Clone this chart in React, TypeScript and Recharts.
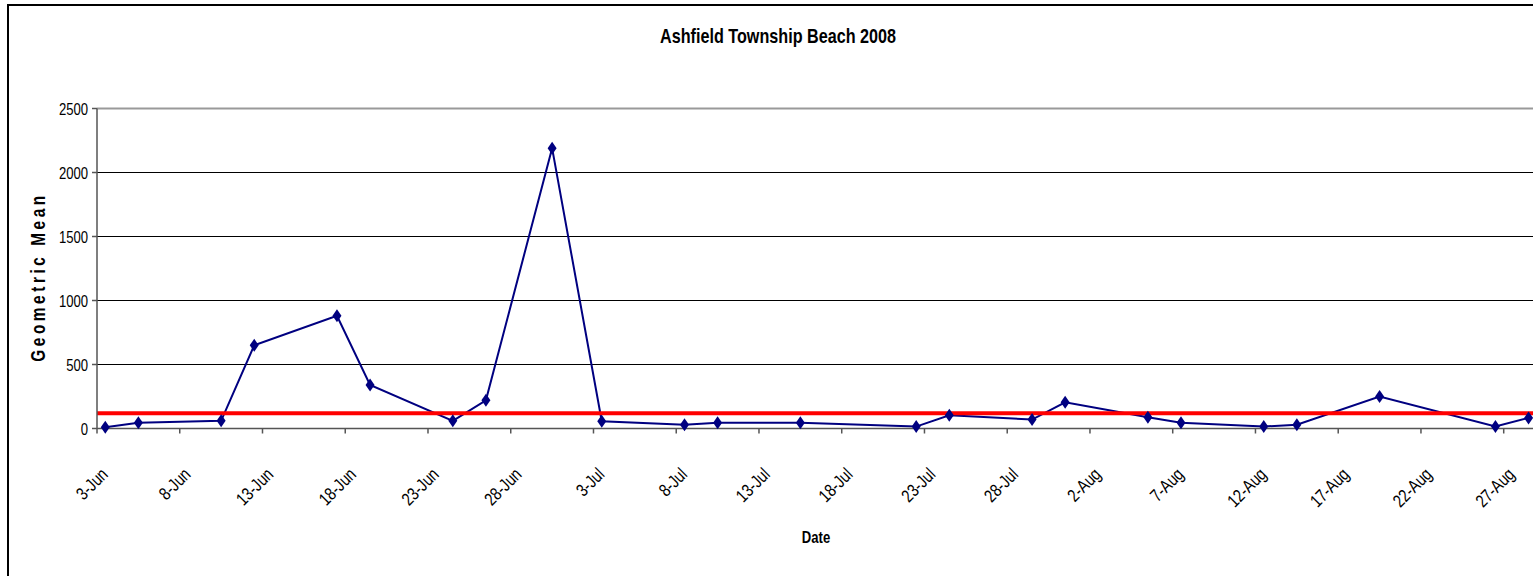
import React from 'react';
import { LineChart, Line, XAxis, YAxis, CartesianGrid, ReferenceLine } from 'recharts';

// sample dates and geometric mean values
const sampleDates = [
  '2008-06-03', '2008-06-05', '2008-06-10', '2008-06-12', '2008-06-17', '2008-06-19',
  '2008-06-24', '2008-06-26', '2008-06-30', '2008-07-03', '2008-07-08', '2008-07-10',
  '2008-07-15', '2008-07-22', '2008-07-24', '2008-07-29', '2008-07-31', '2008-08-05',
  '2008-08-07', '2008-08-12', '2008-08-14', '2008-08-19', '2008-08-26', '2008-08-28',
];
const geoMean = [
  10, 45, 60, 650, 880, 340,
  60, 220, 2190, 57, 30, 44,
  44, 15, 104, 70, 205, 88,
  45, 15, 30, 250, 15, 83,
];

// tick labels on the date axis
const tickDates = [
  '2008-06-03', '2008-06-08', '2008-06-13', '2008-06-18', '2008-06-23', '2008-06-28',
  '2008-07-03', '2008-07-08', '2008-07-13', '2008-07-18', '2008-07-23', '2008-07-28',
  '2008-08-02', '2008-08-07', '2008-08-12', '2008-08-17', '2008-08-22', '2008-08-27',
];
const yTicks = [0, 500, 1000, 1500, 2000, 2500];
const standard = 120;

const months = ['Jan', 'Feb', 'Mar', 'Apr', 'May', 'Jun', 'Jul', 'Aug', 'Sep', 'Oct', 'Nov', 'Dec'];
const startMs = Date.parse('2008-06-03');
const dayOf = (iso: string) => Math.round((Date.parse(iso) - startMs) / 86400000);
const fmt = (iso: string) => {
  const d = new Date(iso);
  return `${d.getUTCDate()}-${months[d.getUTCMonth()]}`;
};

const data = sampleDates.map((d, i) => ({ day: dayOf(d), gm: geoMean[i] }));
// ticks sit on the slot boundary before each date, like Excel's date axis
const tickDays = tickDates.map((d) => dayOf(d) - 0.5);
const tickLabel = new Map(tickDates.map((d) => [dayOf(d) - 0.5, fmt(d)]));

// no narrow font installed, so squeeze Liberation Sans horizontally
const font = "'Liberation Sans', Arial, sans-serif";
const squeeze = 0.77;

const Diamond = (props: any) => {
  const { cx, cy } = props;
  if (cx == null || cy == null) return null;
  return (
    <path
      d={`M${cx},${cy - 6.5}L${cx + 4.5},${cy}L${cx},${cy + 6.5}L${cx - 4.5},${cy}Z`}
      fill="#000080"
    />
  );
};

const DateTick = ({ x, y, payload }: any) => (
  <text
    x={0}
    y={0}
    transform={`translate(${x + 12},${y + 42}) rotate(-45) scale(0.8,1)`}
    textAnchor="end"
    fontSize={18}
    fontFamily={font}
    fill="#000"
  >
    {tickLabel.get(payload.value)}
  </text>
);

const ValueTick = ({ x, y, payload }: any) => (
  <text
    x={0}
    y={0}
    dy="0.36em"
    transform={`translate(${x},${y}) scale(${squeeze},1)`}
    textAnchor="end"
    fontSize={17}
    fontFamily={font}
    fill="#000"
  >
    {payload.value}
  </text>
);

export default function App() {
  return (
    <div style={{ position: 'absolute', left: 0, top: 0, width: 1533, height: 576, overflow: 'hidden', background: '#fff' }}>
      <div style={{ position: 'absolute', left: 7, top: 4, width: 1700, height: 700, border: '2px solid #000' }} />
      <div style={{ position: 'absolute', left: 0, top: 0 }}>
        <LineChart width={1533} height={576} data={data} margin={{ top: 108.5, right: 0, bottom: 0, left: 0 }}>
          <CartesianGrid vertical={false} stroke="#000" strokeWidth={1} shapeRendering="crispEdges" />
          <XAxis
            type="number"
            dataKey="day"
            domain={[-0.5, 86.27]}
            ticks={tickDays}
            interval={0}
            allowDataOverflow
            height={147.5}
            tickSize={5}
            tickMargin={0}
            stroke="#555"
            strokeWidth={1.5}
            tick={<DateTick />}
          />
          <YAxis
            domain={[0, 2500]}
            ticks={yTicks}
            width={97}
            tickSize={5}
            tickMargin={4}
            stroke="#555"
            strokeWidth={1.5}
            tick={<ValueTick />}
          />
          <ReferenceLine y={2500} stroke="#999" strokeWidth={2} />
          <Line
            type="linear"
            dataKey="gm"
            stroke="#000080"
            strokeWidth={2}
            dot={<Diamond />}
            activeDot={false}
            isAnimationActive={false}
          />
          <ReferenceLine y={standard} stroke="#ff0000" strokeWidth={4} />
        </LineChart>
      </div>
      <div
        style={{
          position: 'absolute', left: 778, top: 36, transform: `translate(-50%, -50%) scaleX(${squeeze})`,
          fontFamily: font, fontWeight: 'bold', fontSize: 21, whiteSpace: 'nowrap', color: '#000',
        }}
      >
        Ashfield Township Beach 2008
      </div>
      <div
        style={{
          position: 'absolute', left: 38, top: 277, transform: `translate(-50%, -50%) rotate(-90deg) scaleX(${squeeze})`,
          fontFamily: font, fontWeight: 'bold', fontSize: 20, letterSpacing: 4.6, whiteSpace: 'nowrap', color: '#000',
        }}
      >
        Geometric Mean
      </div>
      <div
        style={{
          position: 'absolute', left: 816, top: 538, transform: `translate(-50%, -50%) scaleX(${squeeze})`,
          fontFamily: font, fontWeight: 'bold', fontSize: 17, whiteSpace: 'nowrap', color: '#000',
        }}
      >
        Date
      </div>
    </div>
  );
}
